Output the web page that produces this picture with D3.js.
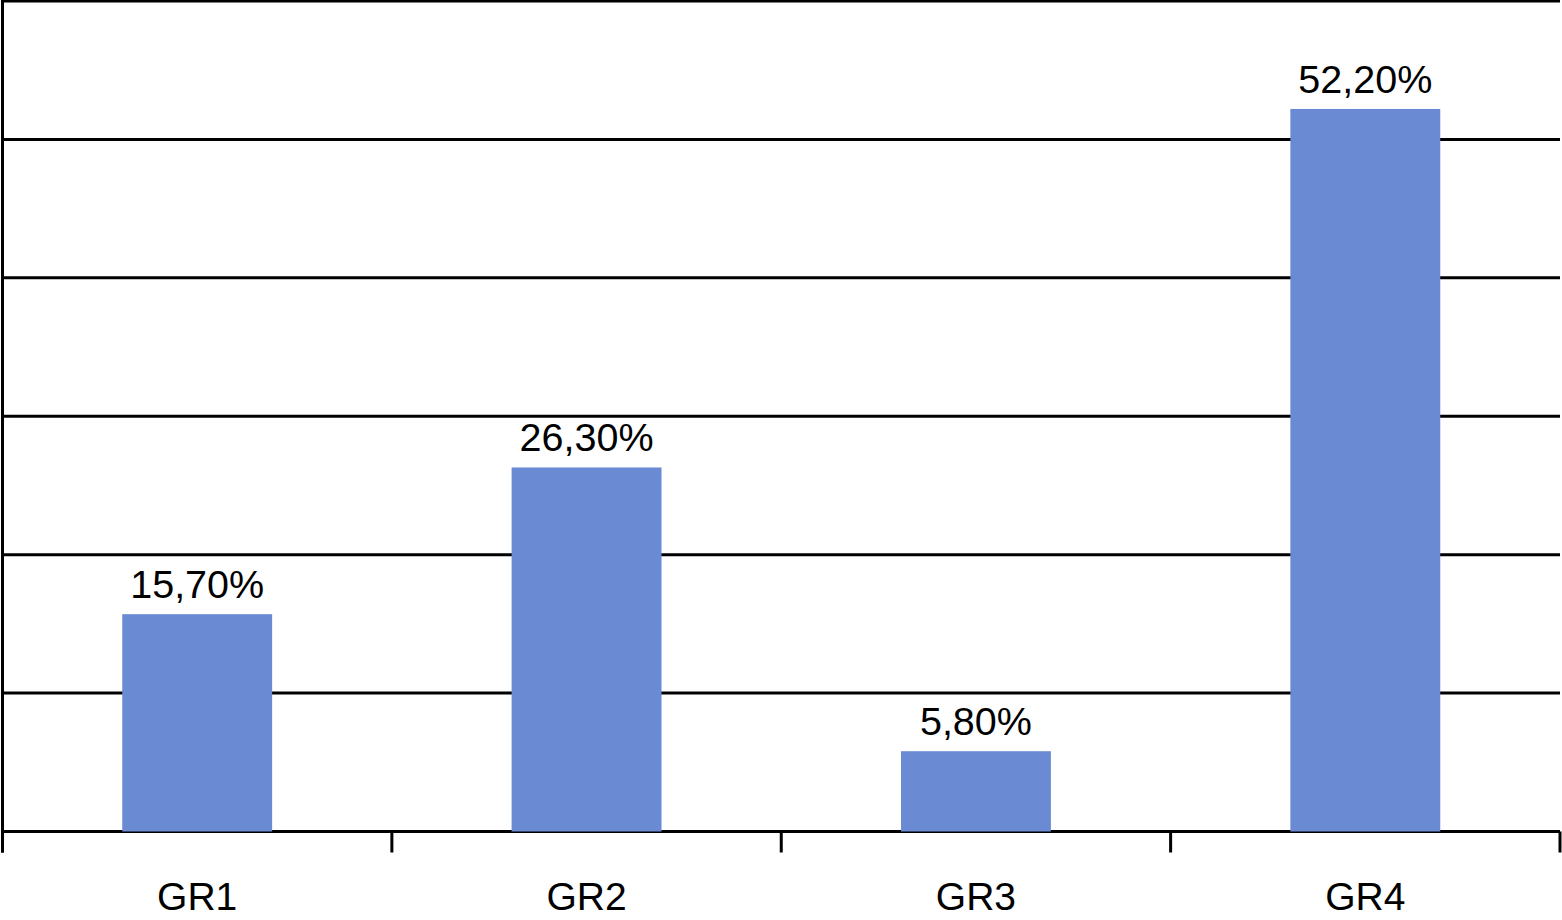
<!DOCTYPE html>
<html>
<head>
<meta charset="utf-8">
<script src="https://cdn.jsdelivr.net/npm/d3@7"></script>
<style>
  html, body { margin: 0; padding: 0; background: #fff; }
  svg { display: block; }
</style>
</head>
<body>
<div id="chart"></div>
<script>
var categories = ["GR1", "GR2", "GR3", "GR4"];
var values = [15.7, 26.3, 5.8, 52.2];
var valueLabels = ["15,70%", "26,30%", "5,80%", "52,20%"];
var yTicks = [0, 10, 20, 30, 40, 50, 60];

function drawChart() {
  var W = 1562, H = 920;
  var margin = { top: 1, right: 2, bottom: 88.5, left: 2.5 };
  var width = W - margin.left - margin.right;
  var height = H - margin.top - margin.bottom;

  var svg = d3.select("#chart").append("svg")
    .attr("width", W)
    .attr("height", H);

  var g = svg.append("g")
    .attr("transform", "translate(" + margin.left + "," + margin.top + ")");

  var x = d3.scaleBand()
    .domain(categories)
    .range([0, width]);

  var y = d3.scaleLinear()
    .domain([0, 60])
    .range([height, 0]);

  // gridlines
  g.append("g")
    .selectAll("line")
    .data(yTicks)
    .enter().append("line")
    .attr("x1", 0)
    .attr("x2", width)
    .attr("y1", function (d) { return y(d); })
    .attr("y2", function (d) { return y(d); })
    .attr("stroke", "#000")
    .attr("stroke-width", 3);

  var barW = x.bandwidth() * 0.385;

  g.append("g")
    .selectAll("rect")
    .data(values)
    .enter().append("rect")
    .attr("x", function (d, i) { return x(categories[i]) + (x.bandwidth() - barW) / 2; })
    .attr("y", function (d) { return y(d); })
    .attr("width", barW)
    .attr("height", function (d) { return height - y(d); })
    .attr("fill", "#6a8ad4");

  g.append("g")
    .selectAll("text")
    .data(values)
    .enter().append("text")
    .attr("x", function (d, i) { return x(categories[i]) + x.bandwidth() / 2; })
    .attr("y", function (d) { return y(d) - 16; })
    .attr("text-anchor", "middle")
    .attr("font-family", "Liberation Sans, Arial, sans-serif")
    .attr("font-size", 39.5)
    .attr("fill", "#000")
    .text(function (d, i) { return valueLabels[i]; });

  // y axis line
  g.append("line")
    .attr("x1", 0).attr("x2", 0)
    .attr("y1", -1).attr("y2", height + 21)
    .attr("stroke", "#000")
    .attr("stroke-width", 3);

  // x axis: ticks on band boundaries
  var bounds = categories.map(function (c) { return x(c); }).concat([width]);
  g.append("g")
    .selectAll("line")
    .data(bounds)
    .enter().append("line")
    .attr("x1", function (d) { return d; })
    .attr("x2", function (d) { return d; })
    .attr("y1", height)
    .attr("y2", height + 21)
    .attr("stroke", "#000")
    .attr("stroke-width", 3);

  g.append("g")
    .selectAll("text")
    .data(categories)
    .enter().append("text")
    .attr("x", function (d) { return x(d) + x.bandwidth() / 2; })
    .attr("y", height + 78)
    .attr("text-anchor", "middle")
    .attr("font-family", "Liberation Sans, Arial, sans-serif")
    .attr("font-size", 39)
    .attr("fill", "#000")
    .text(function (d) { return d; });
}

drawChart();
</script>
</body>
</html>
